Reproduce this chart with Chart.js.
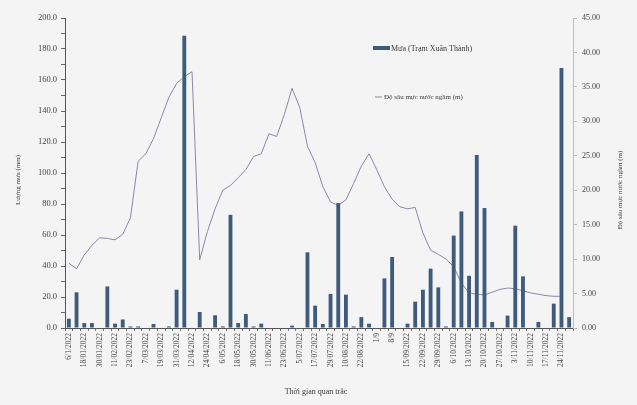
<!DOCTYPE html>
<html>
<head>
<meta charset="utf-8">
<script src="https://cdn.jsdelivr.net/npm/chart.js@4.4.0/dist/chart.umd.min.js"></script>
<style>
  body { margin: 0; background: #f4f4f4; }
  #wrap { width: 637px; height: 405px; position: relative; }
</style>
</head>
<body>
<div id="wrap"><canvas id="rain_chart"></canvas></div>
<script>
// ngày quan trắc (66 lần), chỉ in nhãn ở lần chẵn
var dates = [
  "6/1/2022", "12/01/2022", "18/01/2022", "24/01/2022", "30/01/2022", "5/02/2022",
  "11/02/2022", "17/02/2022", "23/02/2022", "1/03/2022", "7/03/2022", "13/03/2022",
  "19/03/2022", "25/03/2022", "31/03/2022", "6/04/2022", "12/04/2022", "18/04/2022",
  "24/04/2022", "30/04/2022", "6/05/2022", "12/05/2022", "18/05/2022", "24/05/2022",
  "30/05/2022", "5/06/2022", "11/06/2022", "17/06/2022", "23/06/2022", "29/06/2022",
  "5/07/2022", "11/07/2022", "17/07/2022", "23/07/2022", "29/07/2022", "4/08/2022",
  "10/08/2022", "16/08/2022", "22/08/2022", "27/08/2022", "1/9", "4/9",
  "8/9", "11/09/2022", "15/09/2022", "18/09/2022", "22/09/2022", "25/09/2022",
  "29/09/2022", "2/10/2022", "6/10/2022", "9/10/2022", "13/10/2022", "16/10/2022",
  "20/10/2022", "23/10/2022", "27/10/2022", "30/10/2022", "3/11/2022", "6/11/2022",
  "10/11/2022", "13/11/2022", "17/11/2022", "20/11/2022", "24/11/2022", "28/11/2022"
];

// lượng mưa (mm) - trạm Xuân Thành
var rain = [
  6, 23, 3.2, 3.2, 0, 26.8, 2.8, 5.5, 1, 1, 0, 2.6,
  0, 1, 24.7, 188.6, 0, 10.3, 0, 8.2, 1, 73, 3.2, 9,
  1, 2.8, 0, 0, 0, 1.5, 0, 48.8, 14.4, 2.6, 22, 80.6,
  21.5, 1, 7, 2.8, 0, 32, 45.8, 0, 2.8, 17, 24.7, 38.3,
  26.2, 1, 59.6, 75.2, 33.7, 111.6, 77.4, 3.9, 0, 8, 66, 33.3,
  0, 3.9, 0, 15.7, 167.7, 7
];

// độ sâu mực nước ngầm (m)
var depth = [
  9.4, 8.6, 10.6, 12.0, 13.1, 13.0, 12.8, 13.6, 16.0, 24.2, 25.3, 27.5,
  30.5, 33.5, 35.5, 36.5, 37.2, 9.9, 14.0, 17.3, 20.0, 20.7, 21.8, 23.0,
  24.9, 25.3, 28.2, 27.8, 31.0, 34.8, 32.0, 26.4, 24.0, 20.5, 18.3, 17.8,
  18.6, 21.0, 23.5, 25.3, 23.0, 20.5, 18.7, 17.6, 17.3, 17.5, 13.8, 11.3,
  10.7, 10.0, 8.9, 6.5, 5.1, 4.9, 4.8, 5.2, 5.6, 5.8, 5.7, 5.4,
  5.1, 4.9, 4.7, 4.6, 4.6, null
];

const ctx = document.getElementById("rain_chart").getContext("2d");
const serif = '"Liberation Serif", "DejaVu Serif", serif';

// tiêu đề trục và chú giải vẽ tay
const extras = {
  id: 'extras',
  afterDraw(chart) {
    const c = chart.ctx;
    c.save();
    c.fillStyle = '#3a3a3a';
    c.textBaseline = 'middle';

    c.font = '7px ' + serif;
    c.textAlign = 'center';
    c.save(); c.translate(18, 180); c.rotate(-Math.PI / 2);
    c.fillText('Lượng mưa (mm)', 0, 0); c.restore();
    c.save(); c.translate(620, 190); c.rotate(-Math.PI / 2);
    c.fillText('Độ sâu mực nước ngầm (m)', 0, 0); c.restore();

    c.font = '8px ' + serif;
    c.fillText('Thời gian quan trắc', 316, 392);

    // chú giải
    c.textAlign = 'left';
    c.fillStyle = '#3e5b7c';
    c.fillRect(373, 46, 17, 4);
    c.fillStyle = '#3a3a3a';
    c.font = '8px ' + serif;
    c.fillText('Mưa (Trạm Xuân Thành)', 391, 48.5);

    c.strokeStyle = '#8d86a8';
    c.lineWidth = 1;
    c.beginPath(); c.moveTo(375, 97); c.lineTo(382, 97); c.stroke();
    c.font = '7px ' + serif;
    c.fillText('Độ sâu mực nước ngầm (m)', 384, 97);
    c.restore();
  }
};

new Chart(ctx, {
  type: 'bar',
  data: {
    labels: dates,
    datasets: [{
      label: 'Mưa (Trạm Xuân Thành)',
      data: rain,
      yAxisID: 'y',
      backgroundColor: '#3e5b7c',
      borderWidth: 0,
      barPercentage: 0.5,
      categoryPercentage: 1,
      order: 0
    }, {
      type: 'line',
      label: 'Độ sâu mực nước ngầm (m)',
      data: depth,
      yAxisID: 'y1',
      borderColor: '#8d86a8',
      borderWidth: 1,
      pointRadius: 0,
      fill: false,
      tension: 0,
      order: 1
    }]
  },
  options: {
    responsive: true,
    maintainAspectRatio: false,
    animation: false,
    layout: { padding: { top: 18, left: 0, right: 0, bottom: 0 } },
    plugins: { legend: { display: false }, tooltip: { enabled: false } },
    scales: {
      x: {
        offset: true,
        grid: { drawOnChartArea: false, drawTicks: true, tickLength: 3, color: '#777' },
        border: { color: '#555', width: 1 },
        ticks: {
          autoSkip: false, minRotation: 90, maxRotation: 90, padding: 2,
          color: '#444', font: { family: serif, size: 7.5 },
          callback: (v, i) => i % 2 === 0 ? dates[i] : ''
        },
        afterFit: s => { s.height = 77; }
      },
      y: {
        position: 'left', min: 0, max: 200,
        grid: { drawOnChartArea: false, tickLength: 4, color: '#666' },
        border: { color: '#555', width: 1 },
        ticks: {
          stepSize: 10, padding: 4, color: '#444', font: { family: serif, size: 8.5 },
          callback: v => v % 20 === 0 ? v.toFixed(1) : ''
        },
        afterFit: s => { s.width = 65; }
      },
      y1: {
        position: 'right', min: 0, max: 45,
        grid: { drawOnChartArea: false, tickLength: 4, color: '#cbb8b2' },
        border: { color: '#cbb8b2', width: 1 },
        ticks: {
          stepSize: 5, padding: 5, color: '#444', font: { family: serif, size: 8 },
          callback: v => v.toFixed(2)
        },
        afterFit: s => { s.width = 64; }
      }
    }
  },
  plugins: [extras]
});
</script>
</body>
</html>
